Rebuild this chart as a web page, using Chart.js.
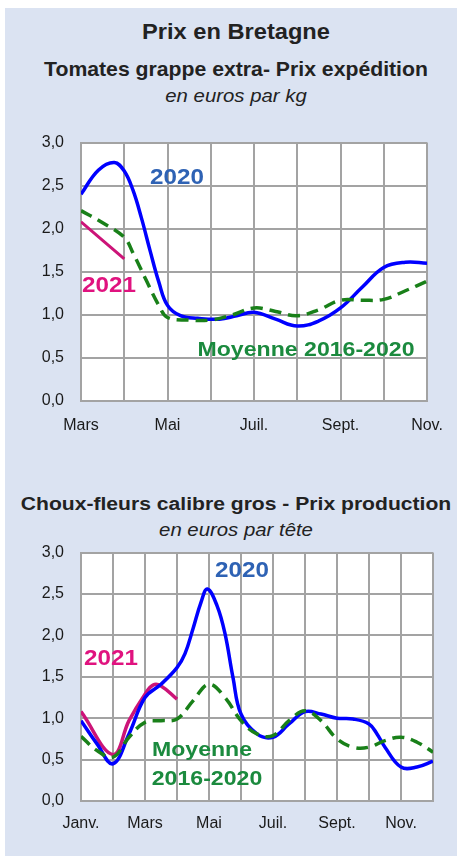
<!DOCTYPE html>
<html>
<head>
<meta charset="utf-8">
<script src="https://cdn.jsdelivr.net/npm/chart.js@4/dist/chart.umd.min.js"></script>
<style>
  body { margin:0; width:458px; height:856px; background:#fff; position:relative; overflow:hidden; font-family:"Liberation Sans", Arial, sans-serif; }
  #panel { position:absolute; left:5px; top:8px; width:452px; height:848px; background:#dbe3f2; }
  .t { position:absolute; left:0; width:472px; text-align:center; color:#222; white-space:nowrap; transform:scaleX(1.1); }
  .lab { position:absolute; font-weight:bold; white-space:nowrap; transform:translate(-50%,-50%) scaleX(1.1); line-height:1; }
  canvas { position:absolute; left:0; }
</style>
</head>
<body>
<div id="panel"></div>
<div class="t" style="top:21px;font-size:21.5px;line-height:22px;font-weight:bold;">Prix en Bretagne</div>
<div class="t" style="top:60px;font-size:19.3px;line-height:20px;font-weight:bold;">Tomates grappe extra- Prix expédition</div>
<div class="t" style="top:86px;font-size:18.5px;line-height:20px;font-style:italic;">en euros par kg</div>

<div class="t" style="top:494px;font-size:19.2px;line-height:20px;font-weight:bold;">Choux-fleurs calibre gros - Prix production</div>
<div class="t" style="top:520px;font-size:18.5px;line-height:20px;font-style:italic;">en euros par tête</div>

<canvas id="chart-tom" width="458" height="324" style="top:116px;"></canvas>
<canvas id="chart-chou" width="458" height="330" style="top:526px;"></canvas>

<div class="lab" style="left:177px;top:177px;font-size:22px;color:#2e62b4;">2020</div>
<div class="lab" style="left:109px;top:285px;font-size:22px;color:#e0137f;">2021</div>
<div class="lab" style="left:306px;top:348px;font-size:21px;color:#1b8a3e;">Moyenne 2016-2020</div>

<div class="lab" style="left:242px;top:570px;font-size:22px;color:#2e62b4;">2020</div>
<div class="lab" style="left:111px;top:658px;font-size:22px;color:#e0137f;">2021</div>
<div class="lab" style="left:202px;top:748px;font-size:21px;color:#1b8a3e;">Moyenne</div>
<div class="lab" style="left:207px;top:777px;font-size:21px;color:#1b8a3e;">2016-2020</div>

<script>
// tomates : mars -> novembre (x = mois depuis mars)
const tomMonths = ['Mars', 'Avr.', 'Mai', 'Juin', 'Juil.', 'Août', 'Sept.', 'Oct.', 'Nov.'];
const tomX2020 = [0, 0.4, 0.77, 1, 1.2, 1.4, 1.6, 1.8, 2, 2.3, 2.7, 3.2, 3.6, 4, 4.5, 5, 5.5, 6, 6.5, 7, 7.5, 8];
const tomY2020 = [2.40, 2.68, 2.77, 2.67, 2.45, 2.12, 1.74, 1.38, 1.11, 0.99, 0.96, 0.95, 0.99, 1.03, 0.95, 0.87, 0.93, 1.08, 1.32, 1.55, 1.61, 1.60];
const tomXMoy = [0, 0.5, 1, 1.2, 1.5, 1.8, 2, 2.5, 3, 3.5, 4, 4.5, 5, 5.5, 6, 6.5, 7, 7.5, 8];
const tomYMoy = [2.21, 2.07, 1.90, 1.72, 1.41, 1.11, 0.97, 0.94, 0.94, 1.00, 1.08, 1.04, 0.99, 1.06, 1.17, 1.17, 1.18, 1.28, 1.39];
const tomX2021 = [0, 1];
const tomY2021 = [2.08, 1.65];

// choux-fleurs : janvier -> décembre
const chouMonths = ['Janv.', 'Févr.', 'Mars', 'Avr.', 'Mai', 'Juin', 'Juil.', 'Août', 'Sept.', 'Oct.', 'Nov.', 'Déc.'];
const chouX2020 = [0, 0.5, 1, 1.5, 2, 2.5, 3, 3.25, 3.5, 3.75, 3.95, 4.25, 4.5, 4.75, 5, 5.5, 6, 6.5, 7, 7.5, 8, 8.5, 9, 9.25, 9.5, 10, 10.5, 11];
const chouY2020 = [0.97, 0.69, 0.45, 0.81, 1.25, 1.41, 1.61, 1.78, 2.08, 2.40, 2.56, 2.36, 2.02, 1.49, 1.05, 0.81, 0.77, 0.93, 1.08, 1.05, 1.00, 0.99, 0.93, 0.81, 0.65, 0.41, 0.41, 0.48];
const chouXMoy = [0, 0.5, 1, 1.5, 2, 2.5, 3, 3.5, 4, 4.5, 5, 5.5, 6, 6.5, 7, 7.5, 8, 8.5, 9, 9.5, 10, 10.5, 11];
const chouYMoy = [0.78, 0.61, 0.53, 0.77, 0.95, 0.97, 0.99, 1.21, 1.41, 1.25, 0.97, 0.81, 0.79, 0.97, 1.09, 0.97, 0.75, 0.65, 0.65, 0.73, 0.77, 0.71, 0.59];
const chouX2021 = [0, 1, 1.5, 2, 2.25, 2.5, 3];
const chouY2021 = [1.08, 0.56, 0.97, 1.29, 1.40, 1.39, 1.23];

const yTicks = [0, 0.5, 1, 1.5, 2, 2.5, 3];

function pts(xs, ys) {
  return xs.map((x, i) => ({ x: x, y: ys[i] }));
}

function makeChart(id, months, series, pad, yW, xH, tickPad) {
  const ctx = document.getElementById(id);
  new Chart(ctx, {
    type: 'line',
    data: {
      datasets: series.map(s => ({
        data: pts(s.x, s.y),
        borderColor: s.color,
        borderWidth: s.width,
        borderDash: s.dash || [],
        pointRadius: 0,
        tension: 0.4,
        fill: false
      }))
    },
    options: {
      responsive: false,
      animation: false,
      layout: { padding: pad },
      plugins: { legend: { display: false }, tooltip: { enabled: false } },
      scales: {
        x: {
          type: 'linear', min: 0, max: months.length - 1,
          afterBuildTicks: s => { s.ticks = months.map((m, i) => ({ value: i })); },
          afterFit: s => { s.height = xH; },
          ticks: {
            autoSkip: false, maxRotation: 0, padding: tickPad,
            color: '#1a1a1a', font: { size: 16, family: 'Liberation Sans' },
            callback: v => (v % 2 === 0 ? months[v] : '')
          },
          grid: { color: '#a3a3a3', lineWidth: 2, drawTicks: false },
          border: { color: '#a3a3a3', width: 2 }
        },
        y: {
          min: 0, max: 3,
          afterBuildTicks: s => { s.ticks = yTicks.map(v => ({ value: v })); },
          afterFit: s => { s.width = yW; },
          ticks: {
            padding: 17, color: '#1a1a1a', font: { size: 16, family: 'Liberation Sans' },
            callback: v => v.toFixed(1).replace('.', ',')
          },
          grid: { color: '#a3a3a3', lineWidth: 2, drawTicks: false },
          border: { color: '#a3a3a3', width: 2 }
        }
      }
    },
    plugins: [{
      id: 'whiteArea',
      beforeDraw: c => {
        const a = c.chartArea, g = c.ctx;
        g.save();
        g.fillStyle = '#ffffff';
        g.fillRect(a.left, a.top, a.right - a.left, a.bottom - a.top);
        g.restore();
      }
    }]
  });
}

makeChart('chart-tom', tomMonths, [
  { x: tomXMoy, y: tomYMoy, color: '#198019', width: 3.5, dash: [12, 7] },
  { x: tomX2021, y: tomY2021, color: '#cc1478', width: 3 },
  { x: tomX2020, y: tomY2020, color: '#0000ff', width: 3.5 }
], { left: 0, right: 31, top: 13, bottom: 0 }, 81, 39, 15);

makeChart('chart-chou', chouMonths, [
  { x: chouXMoy, y: chouYMoy, color: '#198019', width: 3.5, dash: [12, 7] },
  { x: chouX2020, y: chouY2020, color: '#0000ff', width: 3.5 },
  { x: chouX2021, y: chouY2021, color: '#cc1478', width: 3.5 }
], { left: 0, right: 25, top: 10, bottom: 0 }, 81, 55, 13);
</script>
</body>
</html>
